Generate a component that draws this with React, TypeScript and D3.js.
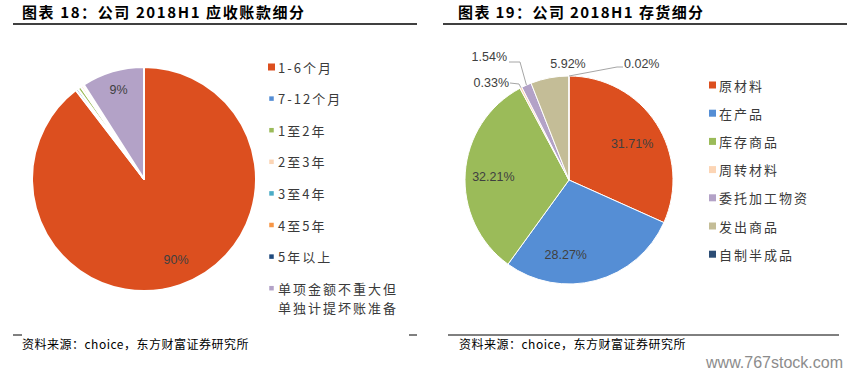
import React from "react";
import * as d3 from "d3";

const arCategories = ["1-6个月", "7-12个月", "1至2年", "2至3年", "3至4年", "4至5年", "5年以上", "单项金额不重大但|单独计提坏账准备"];
const arValues = [89.6, 0.35, 0.5, 0.35, 0.05, 0.05, 0.05, 9.05];
const arLabels = ["90%", "", "", "", "", "", "", "9%"];
const arColors = ["#DC4F1F", "#558ED5", "#9BBB59", "#FCD5B5", "#4BACC6", "#F79646", "#1F497D", "#B3A2C7"];

const invCategories = ["原材料", "在产品", "库存商品", "周转材料", "委托加工物资", "发出商品", "自制半成品"];
const invValues = [31.71, 28.27, 32.21, 0.33, 1.54, 5.92, 0.02];
const invLabels = ["31.71%", "28.27%", "32.21%", "0.33%", "1.54%", "5.92%", "0.02%"];
const invColors = ["#DC4F1F", "#558ED5", "#9BBB59", "#FCD5B5", "#B3A2C7", "#C4BD97", "#2C4D75"];

const CJK = "'Noto Sans CJK SC', 'Noto Sans', sans-serif";
const LAB = "'Liberation Sans', 'Noto Sans', sans-serif";

export default function App() {
  const pie = d3.pie<number>().sort(null).value((d) => d);

  // Left pie
  const lc = { x: 144, y: 179 };
  const lr = 112;
  const lArcs = pie(arValues);
  const lArc = d3.arc<d3.PieArcDatum<number>>().innerRadius(0).outerRadius(lr);
  const lLabelArc = d3.arc<d3.PieArcDatum<number>>().innerRadius(lr * 0.78).outerRadius(lr * 0.78);
  const lOffsets: Record<number, [number, number]> = { 0: [4, -2], 7: [-1, -5] };

  // Right pie
  const rc = { x: 569, y: 180 };
  const rr = 104;
  const rArcs = pie(invValues);
  const rArc = d3.arc<d3.PieArcDatum<number>>().innerRadius(0).outerRadius(rr);
  const rLabelArc = d3.arc<d3.PieArcDatum<number>>().innerRadius(rr * 0.7).outerRadius(rr * 0.7);
  const rEdgeArc = d3.arc<d3.PieArcDatum<number>>().innerRadius(rr).outerRadius(rr);
  const rInside: Record<number, [number, number]> = { 0: [2, 4], 1: [-22, 5], 2: [-3, 2] };

  const legendLeftY = (i: number) => 67 + i * 31.6;
  const legendRightY = (i: number) => 85 + i * 28.2;

  return (
    <svg width={855} height={376} style={{ position: "absolute", left: 0, top: 0, background: "#fff" }}>
      <rect width={855} height={376} fill="#fff" />
      {/* titles */}
      <text x={22} y={18} fontFamily={CJK} fontWeight={700} fontSize={15} fill="#000" letterSpacing={1.6}>
        图表 18：公司 2018H1 应收账款细分
      </text>
      <line x1={13} x2={417} y1={24} y2={24} stroke="#000" strokeWidth={1.3} />
      <text x={458} y={18} fontFamily={CJK} fontWeight={700} fontSize={15} fill="#000" letterSpacing={1.4}>
        图表 19：公司 2018H1 存货细分
      </text>
      <line x1={443} x2={847} y1={24} y2={24} stroke="#000" strokeWidth={1.3} />

      {/* left pie */}
      <g transform={`translate(${lc.x},${lc.y})`}>
        {lArcs.map((a, i) => (
          <path key={i} d={lArc(a) || ""} fill={arColors[i]} stroke="#fff" strokeWidth={2} strokeLinejoin="round" />
        ))}
        {lArcs.map((a, i) => {
          if (!arLabels[i]) return null;
          const [cx, cy] = lLabelArc.centroid(a);
          const off = lOffsets[i] || [0, 0];
          return (
            <text key={i} x={cx + off[0]} y={cy + off[1]} textAnchor="middle" dominantBaseline="central" fontFamily={LAB} fontSize={12.5} fill="#404040">
              {arLabels[i]}
            </text>
          );
        })}
      </g>

      {/* left legend */}
      {arCategories.map((c, i) => {
        const y = legendLeftY(i);
        const s = i === 0 ? 7 : 4.5;
        const lines = c.split("|");
        return (
          <g key={i}>
            <rect x={271.5 - s / 2} y={y - s / 2} width={s} height={s} fill={arColors[i]} />
            {lines.map((t, k) => (
              <text key={k} x={278} y={y + k * 19.5} dominantBaseline="central" fontFamily={CJK} fontSize={13} fill="#3a3a3a" letterSpacing={2}>
                {t}
              </text>
            ))}
          </g>
        );
      })}

      {/* right pie */}
      <g transform={`translate(${rc.x},${rc.y})`}>
        {rArcs.map((a, i) => (
          <path key={i} d={rArc(a) || ""} fill={invColors[i]} stroke="#fff" strokeWidth={1} strokeLinejoin="round" />
        ))}
        {rArcs.map((a, i) => {
          if (!(i in rInside)) return null;
          const [cx, cy] = rLabelArc.centroid(a);
          const off = rInside[i];
          return (
            <text key={i} x={cx + off[0]} y={cy + off[1]} textAnchor="middle" dominantBaseline="central" fontFamily={LAB} fontSize={12.5} fill="#404040">
              {invLabels[i]}
            </text>
          );
        })}
        {(() => {
          const e3 = rEdgeArc.centroid(rArcs[3]);
          const e4 = rEdgeArc.centroid(rArcs[4]);
          const top = [0, -rr];
          return (
            <g>
              <polyline points={`${-59},${-97} ${-50},${-96} ${e3[0]},${e3[1]}`} fill="none" stroke="#A6A6A6" strokeWidth={1} />
              <text x={-60} y={-97} textAnchor="end" dominantBaseline="central" fontFamily={LAB} fontSize={12.5} fill="#404040">{invLabels[3]}</text>
              <polyline points={`${-60},${-118} ${-49},${-118} ${e4[0]},${e4[1]}`} fill="none" stroke="#A6A6A6" strokeWidth={1} />
              <text x={-62} y={-123} textAnchor="end" dominantBaseline="central" fontFamily={LAB} fontSize={12.5} fill="#404040">{invLabels[4]}</text>
              <text x={-1} y={-116} textAnchor="middle" dominantBaseline="central" fontFamily={LAB} fontSize={12.5} fill="#404040">{invLabels[5]}</text>
              <polyline points={`${top[0]},${top[1]} ${48},${-113} ${54},${-113}`} fill="none" stroke="#A6A6A6" strokeWidth={1} />
              <text x={55} y={-116} textAnchor="start" dominantBaseline="central" fontFamily={LAB} fontSize={12.5} fill="#404040">{invLabels[6]}</text>
            </g>
          );
        })()}
      </g>

      {/* right legend */}
      {invCategories.map((c, i) => {
        const y = legendRightY(i);
        return (
          <g key={i}>
            <rect x={709} y={y - 3.5} width={7} height={7} fill={invColors[i]} />
            <text x={719} y={y} dominantBaseline="central" fontFamily={CJK} fontSize={13} fill="#3a3a3a" letterSpacing={2}>
              {c}
            </text>
          </g>
        );
      })}

      {/* footers */}
      <line x1={13} x2={22} y1={335} y2={335} stroke="#000" strokeWidth={1} />
      <line x1={409} x2={417} y1={335} y2={335} stroke="#000" strokeWidth={1} />
      <text x={22} y={349} fontFamily={CJK} fontSize={12} fill="#000" letterSpacing={0.5}>资料来源：choice，东方财富证券研究所</text>
      <line x1={448} x2={839} y1={335} y2={335} stroke="#000" strokeWidth={1} />
      <text x={459} y={349} fontFamily={CJK} fontSize={12} fill="#000" letterSpacing={0.5}>资料来源：choice，东方财富证券研究所</text>
      <text x={843} y={368} textAnchor="end" fontFamily={LAB} fontSize={16} fill="#8c8c8c">www.767stock.com</text>
    </svg>
  );
}
